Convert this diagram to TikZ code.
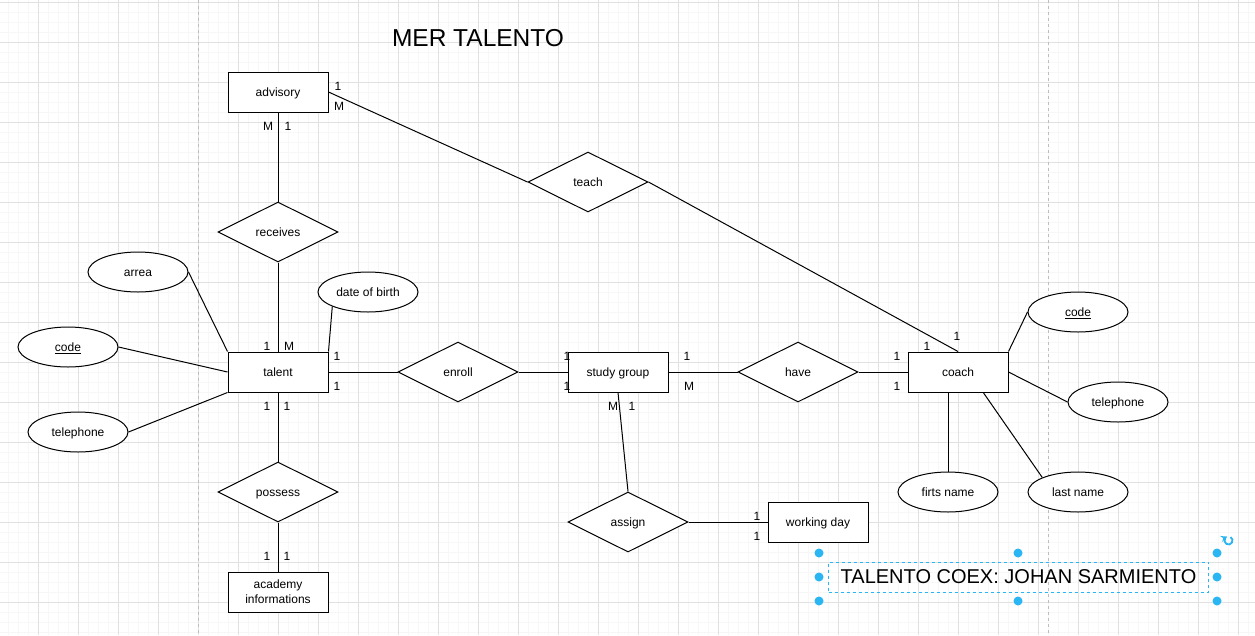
\documentclass[tikz,border=0pt]{standalone}
\usepackage{fontspec}
\setmainfont{Liberation Sans}
\usetikzlibrary{shapes.geometric,calc}
\definecolor{selblue}{RGB}{41,182,242}
\definecolor{gridmajor}{RGB}{225,225,225}
\definecolor{gridminor}{RGB}{247,247,247}
\definecolor{pagebreak}{RGB}{190,190,190}

\begin{document}
\begin{tikzpicture}[x=1pt, y=-1pt, line width=1pt, font={\fontsize{12}{14}\selectfont},
	entity/.style={draw, fill=white, rectangle, minimum width=100, minimum height=40, inner sep=0, text height=8.6, text depth=0},
	relation/.style={draw, fill=white, diamond, aspect=2, minimum width=120, minimum height=60, inner sep=0, text height=8.6, text depth=0},
	attrib/.style={draw, fill=white, ellipse, minimum width=100, minimum height=40, inner sep=0, text height=8.6, text depth=0},
	card/.style={inner sep=0},
	handle/.style={circle, fill=selblue, inner sep=0, minimum size=9}]
		\useasboundingbox (0,0) rectangle (1255,635);
		\fill[white] (0,0) rectangle (1255,635);
		\foreach \gx in {8.3,18.3,...,1258.3} \draw[gridminor] (\gx,0) -- (\gx,635);
		\foreach \gy in {2.3,12.3,...,632.3} \draw[gridminor] (0,\gy) -- (1255,\gy);
		\foreach \gx in {38.3,78.3,...,1238.3} \draw[gridmajor] (\gx,0) -- (\gx,635);
		\foreach \gy in {2.3,42.3,...,602.3} \draw[gridmajor] (0,\gy) -- (1255,\gy);
		\draw[pagebreak, dashed] (198.3,0) -- (198.3,635);
		\draw[pagebreak, dashed] (1048.3,0) -- (1048.3,635);

		\node[font={\fontsize{24.5}{28}\selectfont}] (title) at (478,38) {MER TALENTO};

		\node[entity] (advisory) at (278,92) {advisory};
		\node[relation] (receives) at (278,232) {receives};
		\node[relation] (teach) at (588,182) {teach};
		\node[entity] (talent) at (278,372) {talent};
		\node[attrib] (arrea) at (138,272) {arrea};
		\node[attrib] (tcode) at (68,347) {\underline{code}};
		\node[attrib] (ttel) at (78,432) {telephone};
		\node[attrib] (birth) at (368,292) {date of birth};
		\node[relation] (enroll) at (458,372) {enroll};
		\node[entity] (group) at (618,372) {study group};
		\node[relation] (have) at (798,372) {have};
		\node[entity] (coach) at (958,372) {coach};
		\node[attrib] (ccode) at (1078,312) {\underline{code}};
		\node[attrib] (ctel) at (1118,402) {telephone};
		\node[attrib] (fname) at (948,492) {firts name};
		\node[attrib] (lname) at (1078,492) {last name};
		\node[relation] (possess) at (278,492) {possess};
		\node[entity, align=center, text height=, text depth=, font={\fontsize{12}{15}\selectfont}] (academy) at (278,592) {academy\\informations};
		\node[relation] (assign) at (628,522) {assign};
		\node[entity] (workday) at (818,522) {working day};

		\draw (advisory) -- (receives);
		\draw (receives) -- (talent);
		\draw (advisory.east) -- (teach.west);
		\draw (teach.east) -- (coach.north);
		\draw (arrea.east) -- (talent.north west);
		\draw (tcode.east) -- (talent.west);
		\draw (ttel.east) -- (talent.south west);
		\draw (birth.south west) -- (talent.north east);
		\draw (talent) -- (enroll);
		\draw (enroll) -- (group);
		\draw (talent) -- (possess);
		\draw (possess) -- (academy);
		\draw (group) -- (have);
		\draw (have) -- (coach);
		\draw (group.south) -- (assign.north);
		\draw (assign) -- (workday);
		\draw (coach.north east) -- (ccode.west);
		\draw (coach.east) -- (ctel.west);
		\draw (fname.north |- coach.south) -- (fname.north);
		\draw ($(coach.south)!0.5!(coach.south east)$) -- (lname.north west);

		\node[card] (c1) at (338,86) {1};
		\node[card] (c2) at (339,106) {M};
		\node[card] (c3) at (268,126) {M};
		\node[card] (c4) at (288,126) {1};
		\node[card] (c5) at (267,346) {1};
		\node[card] (c6) at (289,346) {M};
		\node[card] (c7) at (337,356) {1};
		\node[card] (c8) at (337,386) {1};
		\node[card] (c9) at (267,406) {1};
		\node[card] (c10) at (287,406) {1};
		\node[card] (c11) at (567,356) {1};
		\node[card] (c12) at (567,386) {1};
		\node[card] (c13) at (687,356) {1};
		\node[card] (c14) at (689,386) {M};
		\node[card] (c15) at (613,406) {M};
		\node[card] (c16) at (632,406) {1};
		\node[card] (c17) at (897,356) {1};
		\node[card] (c18) at (897,386) {1};
		\node[card] (c19) at (927,346) {1};
		\node[card] (c20) at (957,336) {1};
		\node[card] (c21) at (267,556) {1};
		\node[card] (c22) at (287,556) {1};
		\node[card] (c23) at (757,516) {1};
		\node[card] (c24) at (757,536) {1};

		\node[draw=selblue, dashed, minimum width=380, minimum height=30, inner sep=0, font={\fontsize{20}{24}\selectfont}] (footer) at (1018.5,577) {TALENTO COEX: JOHAN SARMIENTO};
		\node[handle] (h1) at (819,553) {};
		\node[handle] (h2) at (1018,553) {};
		\node[handle] (h3) at (1217,553) {};
		\node[handle] (h4) at (819,577) {};
		\node[handle] (h5) at (1217,577) {};
		\node[handle] (h6) at (819,601) {};
		\node[handle] (h7) at (1018,601) {};
		\node[handle] (h8) at (1217,601) {};
		\draw[selblue, line width=1.8, -stealth] (1228.5,540.5) ++(-60:4) arc (-60:250:4);
	  \end{tikzpicture}
\end{document}
